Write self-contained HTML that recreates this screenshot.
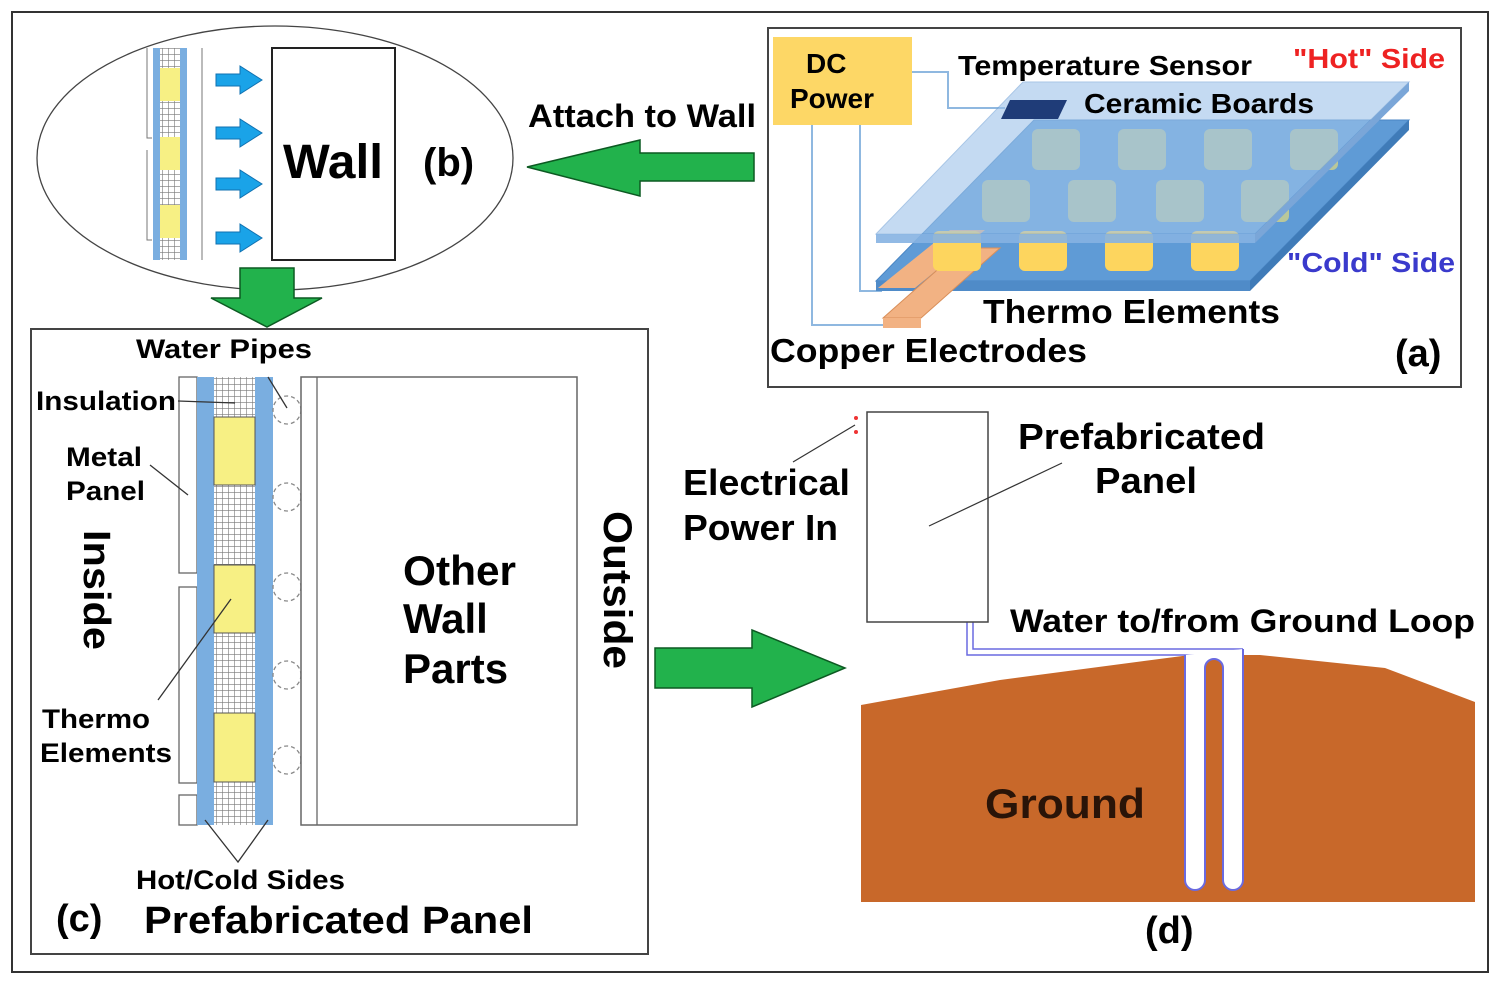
<!DOCTYPE html>
<html><head><meta charset="utf-8"><style>
html,body{margin:0;padding:0;background:#fff;}
svg{display:block;font-family:"Liberation Sans",Arial,sans-serif;}
.b{font-weight:bold;}
</style></head><body>
<svg width="1500" height="984" viewBox="0 0 1500 984" xmlns="http://www.w3.org/2000/svg">
<defs>
<pattern id="grid" width="6" height="6" patternUnits="userSpaceOnUse">
<rect width="6" height="6" fill="#fff"/><path d="M0 0H6M0 0V6" stroke="#777" stroke-width="1.2"/>
</pattern>
</defs>
<rect x="12" y="12" width="1476" height="960" fill="#fff" stroke="#333" stroke-width="2"/>

<!-- Panel (b) -->
<ellipse cx="275" cy="158" rx="238" ry="132" fill="#fff" stroke="#444" stroke-width="1.3"/>
<g>
<path d="M147 48V138H152M147 150V240H152" stroke="#777" fill="none"/>
<rect x="153" y="48" width="34" height="212" fill="url(#grid)"/>
<rect x="153" y="48" width="7" height="212" fill="#7aaee0"/>
<rect x="180" y="48" width="7" height="212" fill="#7aaee0"/>
<rect x="160" y="68" width="20" height="33" fill="#f7f084"/>
<rect x="160" y="137" width="20" height="33" fill="#f7f084"/>
<rect x="160" y="205" width="20" height="33" fill="#f7f084"/>
<line x1="202" y1="48" x2="202" y2="260" stroke="#777"/>
</g>
<g fill="#1aa3e8" stroke="#1070b0" stroke-width="1">
<path d="M216 74H240V66L262 80L240 94V86H216Z"/>
<path d="M216 127H240V119L262 133L240 147V139H216Z"/>
<path d="M216 178H240V170L262 184L240 198V190H216Z"/>
<path d="M216 232H240V224L262 238L240 252V244H216Z"/>
</g>
<rect x="272" y="48" width="123" height="212" fill="#fff" stroke="#222" stroke-width="2"/>
<text x="283" y="178" class="b" font-size="48" textLength="100" lengthAdjust="spacingAndGlyphs">Wall</text>
<text x="423" y="176" class="b" font-size="40">(b)</text>

<!-- green arrows -->
<path d="M240 268H294V298H322L267 327L211 298H240Z" fill="#22b24c" stroke="#0c5a22" stroke-width="1.5"/>
<path d="M527 167L640 140V153H754V181H640V196Z" fill="#22b24c" stroke="#0c5a22" stroke-width="1.5"/>
<path d="M655 648H752V630L845 668L752 707V688H655Z" fill="#22b24c" stroke="#0c5a22" stroke-width="1.5"/>
<text x="528" y="127" class="b" font-size="32" textLength="228" lengthAdjust="spacingAndGlyphs">Attach to Wall</text>

<!-- Panel (a) -->
<rect x="768" y="28" width="693" height="359" fill="#fff" stroke="#444" stroke-width="2"/>
<g fill="none" stroke="#8fb8e0" stroke-width="2">
<path d="M912 72H948V108H1005"/>
<path d="M860 125V291H882"/>
<path d="M812 125V325H885"/>
</g>
<polygon points="1034,120 1409,120 1250,281 876,281" fill="#5f9bd6" stroke="#4a86c4"/>
<polygon points="876,281 1250,281 1250,291 876,291" fill="#4f8bc8"/>
<polygon points="1250,281 1409,120 1409,130 1250,291" fill="#3f7bb8"/>
<polygon points="878,288 915,288 985,230 950,230" fill="#f2b283"/>
<polygon points="883,318 921,318 1000,248 962,248" fill="#f2b283" stroke="#d98f5a"/>
<rect x="883" y="318" width="38" height="10" fill="#f2b283"/>
<g fill="#b9c79a">
<rect x="1032" y="129" width="48" height="41" rx="6"/><rect x="1118" y="129" width="48" height="41" rx="6"/><rect x="1204" y="129" width="48" height="41" rx="6"/><rect x="1290" y="129" width="48" height="41" rx="6"/>
<rect x="982" y="180" width="48" height="42" rx="6"/><rect x="1068" y="180" width="48" height="42" rx="6"/><rect x="1156" y="180" width="48" height="42" rx="6"/><rect x="1241" y="180" width="48" height="42" rx="6"/>
</g>
<g fill="#fdd55e">
<rect x="933" y="231" width="48" height="40" rx="6"/><rect x="1019" y="231" width="48" height="40" rx="6"/><rect x="1105" y="231" width="48" height="40" rx="6"/><rect x="1191" y="231" width="48" height="40" rx="6"/>
</g>
<polygon points="1023,82 1409,82 1255,234 876,234" fill="#9dc3ea" opacity="0.6" stroke="#6fa0d6"/>
<polygon points="876,234 1255,234 1255,243 876,243" fill="#86b2e2" opacity="0.9"/>
<polygon points="1255,234 1409,82 1409,91 1255,243" fill="#7aa6d8"/>
<polygon points="1010,100 1067,100 1058,119 1001,119" fill="#1f3c78"/>
<rect x="773" y="37" width="139" height="88" fill="#fdd766"/>
<text x="806" y="73" class="b" font-size="28">DC</text>
<text x="790" y="108" class="b" font-size="28">Power</text>
<text x="958" y="75" font-size="28" class="b" textLength="294" lengthAdjust="spacingAndGlyphs">Temperature Sensor</text>
<text x="1293" y="68" class="b" font-size="28" fill="#ee2222" textLength="152" lengthAdjust="spacingAndGlyphs">"Hot" Side</text>
<text x="1084" y="113" class="b" font-size="28" textLength="230" lengthAdjust="spacingAndGlyphs">Ceramic Boards</text>
<text x="1287" y="272" class="b" font-size="28" fill="#3a3acc" textLength="168" lengthAdjust="spacingAndGlyphs">"Cold" Side</text>
<text x="983" y="323" class="b" font-size="33" textLength="297" lengthAdjust="spacingAndGlyphs">Thermo Elements</text>
<text x="770" y="362" class="b" font-size="33" textLength="317" lengthAdjust="spacingAndGlyphs">Copper Electrodes</text>
<text x="1395" y="366" class="b" font-size="38">(a)</text>

<!-- Panel (c) -->
<rect x="31" y="329" width="617" height="625" fill="#fff" stroke="#444" stroke-width="2"/>
<g fill="#fff" stroke="#666" stroke-width="1.3">
<rect x="179" y="377" width="18" height="196"/>
<rect x="179" y="587" width="18" height="196"/>
<rect x="179" y="795" width="18" height="30"/>
</g>
<rect x="214" y="377" width="41" height="448" fill="url(#grid)"/>
<rect x="197" y="377" width="17" height="448" fill="#7aaee0"/>
<rect x="255" y="377" width="18" height="448" fill="#7aaee0"/>
<g fill="#f7f084" stroke="#555" stroke-width="1">
<rect x="214" y="417" width="41" height="68"/>
<rect x="214" y="565" width="41" height="68"/>
<rect x="214" y="713" width="41" height="69"/>
</g>
<g fill="#fff" stroke="#888" stroke-width="1.3" stroke-dasharray="4 3">
<circle cx="287" cy="410" r="14"/><circle cx="287" cy="497" r="14"/><circle cx="287" cy="587" r="14"/><circle cx="287" cy="675" r="14"/><circle cx="287" cy="760" r="14"/>
</g>
<rect x="301" y="377" width="276" height="448" fill="#fff" stroke="#666" stroke-width="1.5"/>
<line x1="317" y1="377" x2="317" y2="825" stroke="#666" stroke-width="1.3"/>
<g stroke="#333" stroke-width="1.3" fill="none">
<line x1="268" y1="377" x2="287" y2="408"/>
<line x1="178" y1="401" x2="235" y2="403"/>
<line x1="150" y1="465" x2="188" y2="495"/>
<line x1="158" y1="700" x2="231" y2="599"/>
<path d="M205 820L238 862L268 820"/>
</g>
<text x="136" y="358" class="b" font-size="27" textLength="176" lengthAdjust="spacingAndGlyphs">Water Pipes</text>
<text x="36" y="410" class="b" font-size="27" textLength="140" lengthAdjust="spacingAndGlyphs">Insulation</text>
<text x="66" y="466" class="b" font-size="27" textLength="76" lengthAdjust="spacingAndGlyphs">Metal</text>
<text x="66" y="500" class="b" font-size="27" textLength="79" lengthAdjust="spacingAndGlyphs">Panel</text>
<text x="42" y="728" class="b" font-size="27" textLength="108" lengthAdjust="spacingAndGlyphs">Thermo</text>
<text x="40" y="762" class="b" font-size="27" textLength="132" lengthAdjust="spacingAndGlyphs">Elements</text>
<text x="136" y="889" class="b" font-size="27" textLength="209" lengthAdjust="spacingAndGlyphs">Hot/Cold Sides</text>
<text transform="translate(84,590) rotate(90)" text-anchor="middle" class="b" font-size="38" textLength="120" lengthAdjust="spacingAndGlyphs">Inside</text>
<text transform="translate(604,590) rotate(90)" text-anchor="middle" class="b" font-size="40" textLength="158" lengthAdjust="spacingAndGlyphs">Outside</text>
<text x="403" y="585" class="b" font-size="42" textLength="113" lengthAdjust="spacingAndGlyphs">Other</text>
<text x="403" y="633" class="b" font-size="42">Wall</text>
<text x="403" y="683" class="b" font-size="42">Parts</text>
<text x="56" y="931" class="b" font-size="38">(c)</text>
<text x="144" y="933" class="b" font-size="38" textLength="389" lengthAdjust="spacingAndGlyphs">Prefabricated  Panel</text>

<!-- Panel (d) -->
<polygon points="861,705 1000,680 1190,655 1260,655 1385,668 1475,702 1475,902 861,902" fill="#c8682a"/>
<path d="M967 622V655H1243" fill="none" stroke="#6a6ae0" stroke-width="1.5"/>
<path d="M973 622V649H1243" fill="none" stroke="#6a6ae0" stroke-width="1.5"/>
<path d="M1185 655V880a10 10 0 0 0 20 0V668a9 9 0 0 1 18 0V880a10 10 0 0 0 20 0V649" fill="#fff" stroke="#6a6ae0" stroke-width="2"/>
<rect x="968" y="650" width="4" height="4" fill="#fff"/>
<rect x="867" y="412" width="121" height="210" fill="#fff" stroke="#444" stroke-width="1.5"/>
<circle cx="856" cy="418" r="2" fill="#e33"/><circle cx="856" cy="432" r="2" fill="#e33"/>
<line x1="793" y1="462" x2="855" y2="425" stroke="#333" stroke-width="1.2"/>
<line x1="929" y1="526" x2="1062" y2="463" stroke="#333" stroke-width="1.2"/>
<text x="683" y="495" class="b" font-size="36" textLength="167" lengthAdjust="spacingAndGlyphs">Electrical</text>
<text x="683" y="540" class="b" font-size="36" textLength="155" lengthAdjust="spacingAndGlyphs">Power In</text>
<text x="1018" y="449" class="b" font-size="36" textLength="247" lengthAdjust="spacingAndGlyphs">Prefabricated</text>
<text x="1095" y="493" class="b" font-size="36" textLength="102" lengthAdjust="spacingAndGlyphs">Panel</text>
<text x="1010" y="632" class="b" font-size="32" textLength="465" lengthAdjust="spacingAndGlyphs">Water to/from Ground Loop</text>
<text x="985" y="818" class="b" font-size="42" fill="#2a1408" textLength="160" lengthAdjust="spacingAndGlyphs">Ground</text>
<text x="1145" y="943" class="b" font-size="38">(d)</text>
</svg>
</body></html>
